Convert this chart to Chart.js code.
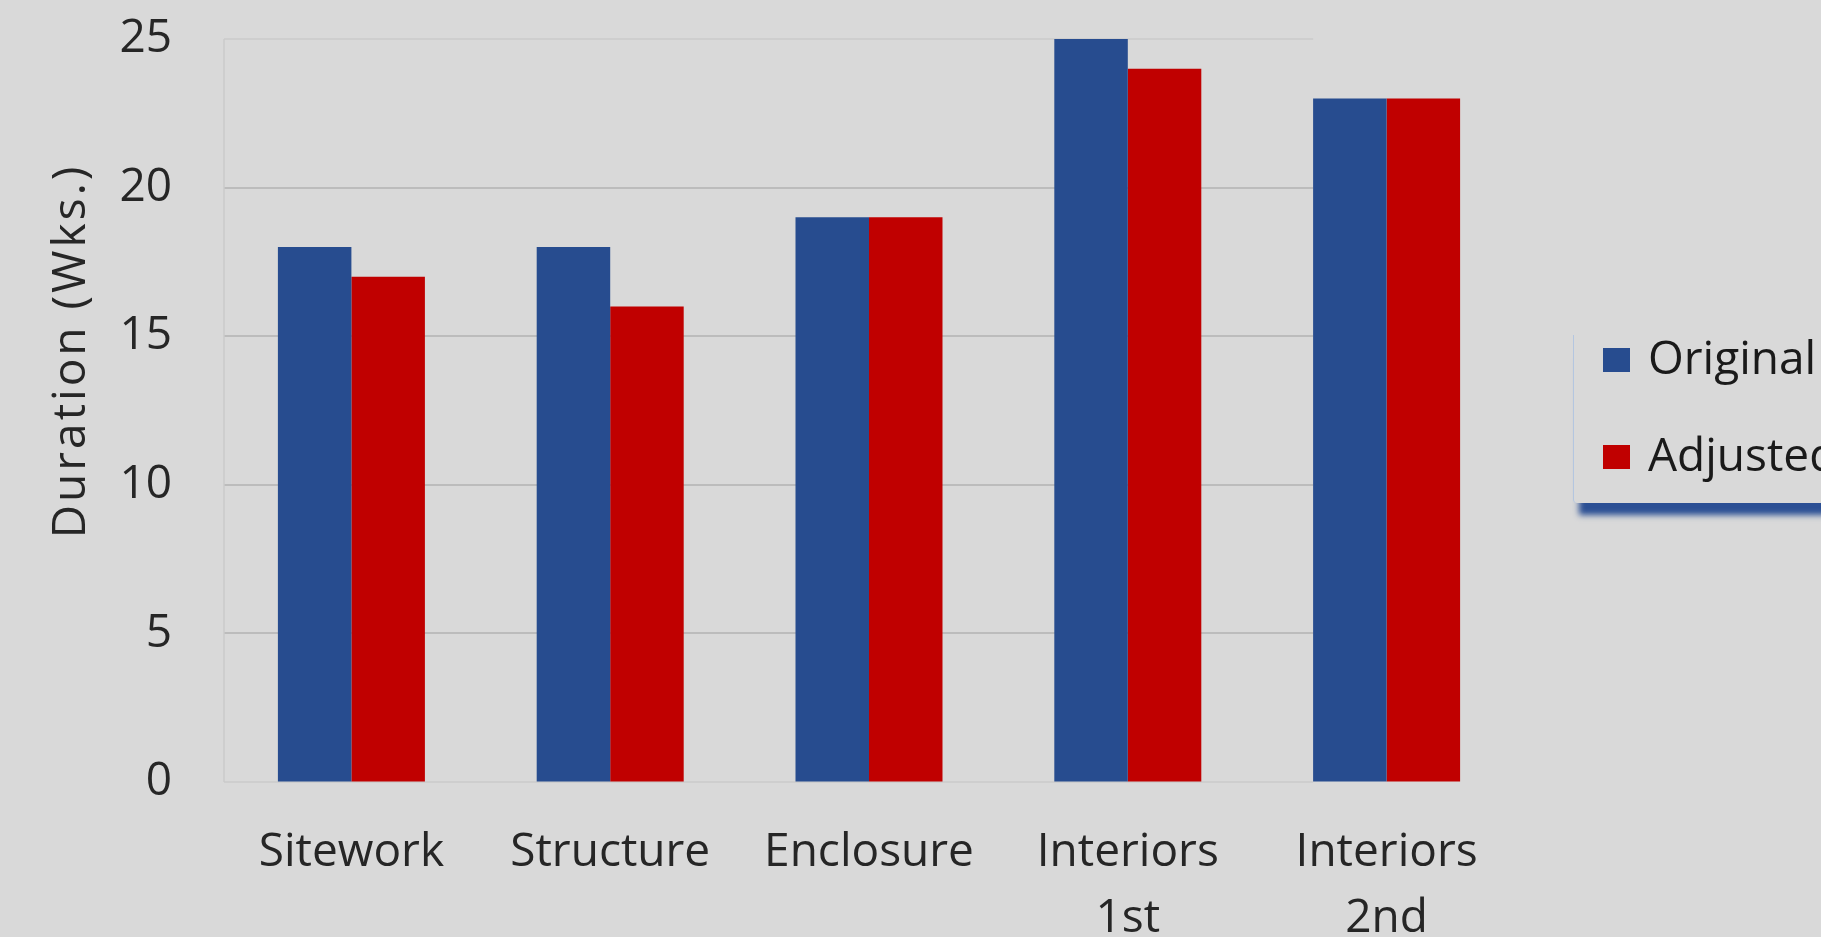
<!DOCTYPE html>
<html>
<head>
<meta charset="utf-8">
<script src="https://cdn.jsdelivr.net/npm/chart.js@4.4.1/dist/chart.umd.min.js"></script>
<style>
  html, body { margin: 0; padding: 0; background: #d9d9d9; overflow: hidden; }
  #wrap { position: relative; width: 1821px; height: 937px; }
  #legend {
    position: absolute; left: 1573px; top: 335px; width: 400px; height: 168px;
    border-left: 1px solid #b4c6e0; background: #d9d9d9;
    box-shadow: 0 18px 6px -6px #2b4f94; border-bottom-left-radius: 4px;
    font-family: 'Open Sans', sans-serif; font-size: 46px; color: #1a1a1a;
  }
  .item { position: absolute; left: 29px; height: 46px; line-height: 46px; white-space: nowrap; }
  .sw { display: inline-block; width: 27px; height: 24px; margin-right: 18px; vertical-align: middle; position: relative; top: -2px; }
</style>
</head>
<body>
<div id="wrap">
  <canvas id="chart" width="1821" height="937"></canvas>
  <div id="legend"></div>
</div>
<script>
const categories = [['Sitework'], ['Structure'], ['Enclosure'], ['Interiors', '1st'], ['Interiors', '2nd']];
const seriesNames = ['Original', 'Adjusted'];
const originalWeeks = [18, 18, 19, 25, 23];
const adjustedWeeks = [17, 16, 19, 24, 23];
const seriesColors = ['#274c8f', '#c00000'];
const yMin = 0, yMax = 25, yStep = 5;
const yTitle = 'Duration (Wks.)';

const textColor = '#262626';
const fontFamily = "'Open Sans', sans-serif";

// grid lines stop at the last group, like in the original picture
const gridPlugin = {
    id: 'gridLines',
    beforeDatasetsDraw(chart) {
        const { ctx, chartArea, scales } = chart;
        const meta = chart.getDatasetMeta(0);
        const last = meta.data[meta.data.length - 1];
        const stopX = last.x - last.width / 2;
        ctx.save();
        scales.y.ticks.forEach(t => {
            const y = Math.round(scales.y.getPixelForValue(t.value));
            const inner = t.value !== yMin && t.value !== yMax;
            ctx.strokeStyle = inner ? '#bcbcbc' : '#cacaca';
            ctx.lineWidth = inner ? 2 : 1.5;
            ctx.beginPath();
            ctx.moveTo(chartArea.left + 2, y);
            ctx.lineTo(stopX, y);
            ctx.stroke();
        });
        ctx.strokeStyle = '#cacaca';
        ctx.lineWidth = 1.5;
        ctx.beginPath();
        ctx.moveTo(chartArea.left + 2, scales.y.getPixelForValue(yMax));
        ctx.lineTo(chartArea.left + 2, scales.y.getPixelForValue(yMin));
        ctx.stroke();
        ctx.restore();
    }
};

const yTitlePlugin = {
    id: 'yTitle',
    afterDraw(chart) {
        const { ctx } = chart;
        ctx.save();
        ctx.translate(72, 351);
        ctx.rotate(-Math.PI / 2);
        ctx.font = '46px ' + fontFamily;
        ctx.letterSpacing = '3px';
        ctx.fillStyle = textColor;
        ctx.textAlign = 'center';
        ctx.textBaseline = 'middle';
        ctx.fillText(yTitle, 0, 0);
        ctx.restore();
    }
};

const ctx = document.getElementById('chart').getContext('2d');
const chart = new Chart(ctx, {
    type: 'bar',
    data: {
        labels: categories,
        datasets: [
            { label: seriesNames[0], data: originalWeeks, backgroundColor: seriesColors[0] },
            { label: seriesNames[1], data: adjustedWeeks, backgroundColor: seriesColors[1] }
        ]
    },
    options: {
        responsive: false,
        animation: false,
        layout: { padding: { left: 0, right: 305, top: 39, bottom: 0 } },
        datasets: { bar: { categoryPercentage: 0.568, barPercentage: 1.0, borderWidth: 0 } },
        plugins: {
            legend: { display: false },
            tooltip: { enabled: false }
        },
        scales: {
            x: {
                grid: { display: false, drawTicks: false },
                border: { display: false },
                ticks: {
                    color: textColor,
                    padding: 38,
                    maxRotation: 0,
                    autoSkip: false,
                    font: { family: fontFamily, size: 46, lineHeight: 1.43 }
                },
                afterFit(scale) { scale.height = 155; }
            },
            y: {
                min: yMin,
                max: yMax,
                grid: { drawOnChartArea: false, drawTicks: true, tickLength: 44, tickColor: 'rgba(0,0,0,0)' },
                border: { display: false },
                ticks: {
                    stepSize: yStep,
                    color: textColor,
                    padding: 6,
                    font: { family: fontFamily, size: 46 }
                },
                afterFit(scale) { scale.width = 222; }
            }
        }
    },
    plugins: [gridPlugin, yTitlePlugin]
});

// legend drawn as html so it can run off the right edge like the original
const legend = document.getElementById('legend');
const rowTops = [-2, 95];
chart.data.datasets.forEach((ds, i) => {
    const item = document.createElement('div');
    item.className = 'item';
    item.style.top = rowTops[i] + 'px';
    const sw = document.createElement('span');
    sw.className = 'sw';
    sw.style.background = ds.backgroundColor;
    item.appendChild(sw);
    item.appendChild(document.createTextNode(ds.label));
    legend.appendChild(item);
});
</script>
</body>
</html>
